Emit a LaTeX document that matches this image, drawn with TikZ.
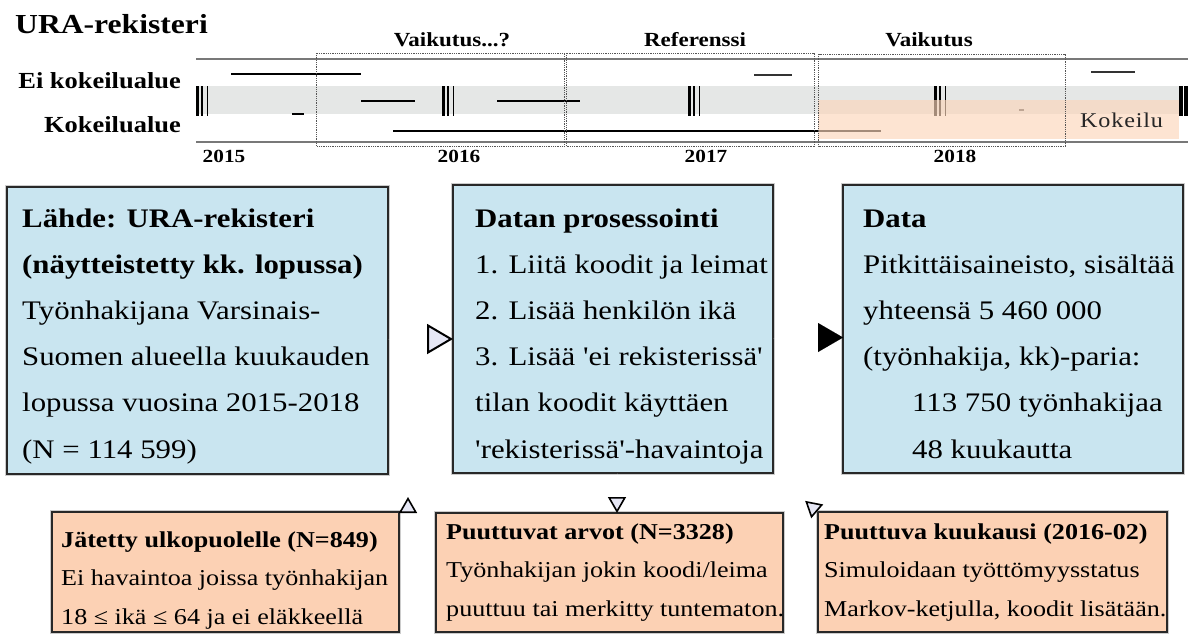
\documentclass[tikz,border=0pt]{standalone}
\usepackage{fontspec}
\setmainfont{Liberation Serif}[FakeStretch=1.15, Ligatures=TeXOff]
\usetikzlibrary{arrows.meta,calc}
\definecolor{boxblue}{RGB}{201,229,240}
\definecolor{boxorange}{RGB}{252,209,180}
\definecolor{bordercol}{RGB}{40,40,40}
\definecolor{bandgray}{RGB}{229,231,230}
\definecolor{linegray}{RGB}{120,120,120}
\definecolor{kokeilucol}{RGB}{252,214,186}
\definecolor{tiplav}{RGB}{230,231,245}
\definecolor{dotgray}{RGB}{85,85,85}
\newcommand\trbars[1]{%
  \fill (#1,86) rectangle ++(2.7,30);
  \fill ($(#1,86)+(4.7,0)$) rectangle ++(2.6,30);
  \fill ($(#1,86)+(10.6,0)$) rectangle ++(1.7,30);
}
\begin{document}
\begin{tikzpicture}[x=1pt,y=-1pt,
  panel/.style={draw=bordercol, line width=2pt, anchor=north west, inner sep=0pt, outer sep=0pt,
     preaction={draw=gray!40, line width=4.5pt}},
  bluepanel/.style={panel, fill=boxblue},
  orangepanel/.style={panel, fill=boxorange},
  bigtext/.style={anchor=base west, inner sep=0pt, font=\fontsize{26.8}{46.2}\selectfont},
  smalltext/.style={anchor=base west, inner sep=0pt, font=\fontsize{22.7}{38.6}\selectfont},
  toplabel/.style={anchor=base, inner sep=0pt, font=\bfseries\fontsize{20}{22}\selectfont},
  rowlabel/.style={anchor=base east, inner sep=0pt, font=\bfseries\fontsize{23}{25}\selectfont},
  yearlabel/.style={anchor=base, inner sep=0pt, font=\bfseries\fontsize{18.5}{20}\selectfont},
  seg/.style={black, line width=1.2pt},
  period/.style={dotgray, line width=0.8pt, dash pattern=on 0.9pt off 0.9pt},
  conn/.style={white, line width=0.01pt},
  opentipbig/.style={conn, -{Triangle[length=26pt, width=30pt, line width=2pt, color=black, fill=tiplav]}},
  blacktip/.style={conn, -{Triangle[length=25pt, width=29pt, color=black]}},
  smalltip/.style={conn, -{Triangle[length=16pt, width=18pt, line width=1.6pt, color=black, fill=tiplav]}}
]
\useasboundingbox (0,0) rectangle (1188,633);
\fill[white] (0,0) rectangle (1188,633);

% ---------- timeline ----------
\node[anchor=base west, inner sep=0pt, font=\bfseries\fontsize{27.5}{30}\selectfont] (title) at (15,33) {URA-rekisteri};

\fill[bandgray] (196,86) rectangle (1179,114);
\draw[linegray, line width=2pt] (196,59) -- (1188,59);
\draw[linegray, line width=2pt] (196,142) -- (1188,142);

\draw[seg] (231,74) -- (361,74);
\draw[seg] (292,114) -- (304,114);
\draw[seg] (361,101) -- (415,101);
\draw[seg] (497,101) -- (580,101);
\draw[seg] (393,131) -- (881,131);
\draw[seg, black!80] (754,75) -- (792,75);
\draw[seg, black!70] (1019,110) -- (1024,110);
\draw[seg, black!80] (1091,72) -- (1135,72);

\trbars{196}
\trbars{442}
\trbars{688}
\trbars{934}
\fill (1179,86) rectangle ++(3.6,30);
\fill (1184.4,86) rectangle ++(3.6,30);

\fill[kokeilucol, fill opacity=0.65] (818,100) rectangle (1179,139);
\node[anchor=base west, inner sep=0pt, text=black!85, font=\fontsize{21}{23}\selectfont\addfontfeatures{LetterSpace=4}] (kokeilu) at (1080,127) {Kokeilu};

\draw[period] (316.5,53) rectangle (564.5,146);
\draw[period] (566,53) rectangle (814,146);
\draw[period] (818.5,54) rectangle (1065,146);

\node[toplabel] (lvai1) at (452,46) {Vaikutus...?};
\node[toplabel] (lref) at (695,46) {Referenssi};
\node[toplabel] (lvai2) at (929,46) {Vaikutus};

\node[rowlabel] (lei) at (181,88) {Ei kokeilualue};
\node[rowlabel] (lkok) at (181,132) {Kokeilualue};

\node[yearlabel] (y15) at (224,162) {2015};
\node[yearlabel] (y16) at (459,162) {2016};
\node[yearlabel] (y17) at (706,162) {2017};
\node[yearlabel] (y18) at (955,162) {2018};

% ---------- main boxes ----------
\node[bluepanel, minimum width=381pt, minimum height=287pt] (src) at (7,187) {};
\node[bluepanel, minimum width=320pt, minimum height=288pt] (proc) at (453,185) {};
\node[bluepanel, minimum width=340pt, minimum height=288pt] (data) at (843,185) {};

\node[bigtext] (srctext) at (22,227) {\parbox[t]{400pt}{\raggedright
  {\bfseries Lähde: URA-rekisteri}\\
  {\bfseries (näytteistetty kk. lopussa)}\\
  Työnhakijana Varsinais-\\
  Suomen alueella kuukauden\\
  lopussa vuosina 2015-2018\\
  (N = 114 599)}};

\node[bigtext] (proctext) at (475,227) {\parbox[t]{400pt}{\raggedright
  {\bfseries Datan prosessointi}\\
  1. Liitä koodit ja leimat\\
  2. Lisää henkilön ikä\\
  3. Lisää 'ei rekisterissä'\\
  tilan koodit käyttäen\\
  'rekisterissä'-havaintoja}};

\node[bigtext] (datatext) at (863,227) {\parbox[t]{400pt}{\raggedright
  {\bfseries Data}\\
  Pitkittäisaineisto, sisältää\\
  yhteensä 5 460 000\\
  (työnhakija, kk)-paria:\\
  \hspace*{49pt}113 750 työnhakijaa\\
  \hspace*{49pt}48 kuukautta}};

% ---------- lower boxes ----------
\node[orangepanel, minimum width=347pt, minimum height=120pt] (excl) at (52,512) {};
\node[orangepanel, minimum width=347pt, minimum height=119pt] (miss) at (436,513) {};
\node[orangepanel, minimum width=349pt, minimum height=120pt] (month) at (818,512) {};

\node[smalltext] (excltext) at (61,547) {\parbox[t]{400pt}{\raggedright
  {\bfseries Jätetty ulkopuolelle (N=849)}\\
  Ei havaintoa joissa työnhakijan\\
  18 ≤ ikä ≤ 64 ja ei eläkkeellä}};

\node[smalltext] (misstext) at (446,539) {\parbox[t]{400pt}{\raggedright
  {\bfseries Puuttuvat arvot (N=3328)}\\
  Työnhakijan jokin koodi/leima\\
  puuttuu tai merkitty tuntematon.}};

\node[smalltext] (monthtext) at (824,539) {\parbox[t]{400pt}{\raggedright
  {\bfseries Puuttuva kuukausi (2016-02)}\\
  Simuloidaan työttömyysstatus\\
  Markov-ketjulla, koodit lisätään.}};

% ---------- connectors (only the heads are visible) ----------
\coordinate (tipA) at (453,339);
\draw[opentipbig] (src.east |- tipA) -- (proc.west |- tipA);
\coordinate (tipB) at (843,337.5);
\draw[blacktip] (proc.east |- tipB) -- (data.west |- tipB);
\coordinate (t4) at (408,497);
\draw[smalltip] (excl.north east -| t4) -- (t4);
\coordinate (t5) at (617,0);
\draw[smalltip] (proc.south -| t5) -- (miss.north -| t5);
\coordinate (t6) at ($(month.north west)!17pt!(proc.south east)$);
\draw[smalltip] (month.north west) -- (t6);
\end{tikzpicture}
\end{document}
